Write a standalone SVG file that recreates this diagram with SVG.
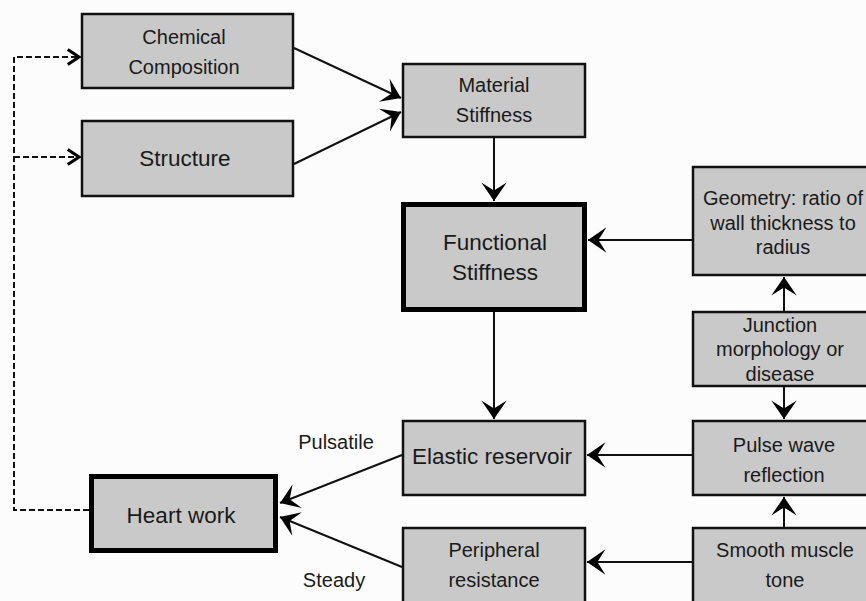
<svg xmlns="http://www.w3.org/2000/svg" width="866" height="601" viewBox="0 0 866 601">
<style>
.box{fill:#c9c9c9;stroke:#111;stroke-width:2.5}
.thick{fill:#c9c9c9;stroke:#000;stroke-width:5}
text{font-family:"Liberation Sans",Arial,sans-serif;fill:#1a1a1a;text-anchor:middle}
.s{font-size:20px}
.l{font-size:22.5px}
.c{stroke:#111;stroke-width:2;fill:none}
.d{stroke:#111;stroke-width:2;fill:none;stroke-dasharray:6 3}
</style>
<defs>
<marker id="a" markerUnits="userSpaceOnUse" markerWidth="30" markerHeight="30" viewBox="-18 -13 20 26" refX="0" refY="0" orient="auto">
<path d="M0,0 L-16,-11 L-9,0 L-16,11 z" fill="#000"/>
</marker>
<marker id="o" markerUnits="userSpaceOnUse" markerWidth="20" markerHeight="20" viewBox="-12 -8 14 16" refX="0" refY="0" orient="auto">
<path d="M-9,-6 L0,0 L-9,6" fill="none" stroke="#000" stroke-width="2.5"/>
</marker>
</defs>
<rect width="866" height="601" fill="#fcfcfc"/>
<g id="connectors">
<path class="d" d="M89,510 H14 V57 H79" marker-end="url(#o)"/>
<path class="d" d="M14,157 H79" marker-end="url(#o)"/>
<line class="c" x1="294" y1="48" x2="401" y2="98" marker-end="url(#a)"/>
<line class="c" x1="294" y1="164" x2="401" y2="112" marker-end="url(#a)"/>
<line class="c" x1="494" y1="138" x2="494" y2="201" marker-end="url(#a)"/>
<line class="c" x1="692" y1="240" x2="588" y2="240" marker-end="url(#a)"/>
<line class="c" x1="494" y1="312" x2="494" y2="419" marker-end="url(#a)"/>
<line class="c" x1="784" y1="311" x2="784" y2="277" marker-end="url(#a)"/>
<line class="c" x1="784" y1="387" x2="784" y2="419" marker-end="url(#a)"/>
<line class="c" x1="784" y1="527" x2="784" y2="497" marker-end="url(#a)"/>
<line class="c" x1="692" y1="455" x2="587" y2="455" marker-end="url(#a)"/>
<line class="c" x1="692" y1="562" x2="587" y2="562" marker-end="url(#a)"/>
<line class="c" x1="402" y1="455" x2="280" y2="503" marker-end="url(#a)"/>
<line class="c" x1="402" y1="567" x2="280" y2="517" marker-end="url(#a)"/>
<text class="s" x="336" y="449">Pulsatile</text>
<text class="s" x="334" y="587">Steady</text>
</g>
<g id="chemical">
<rect class="box" x="82" y="14" width="211" height="74"/>
<text class="s" x="184" y="44">Chemical</text>
<text class="s" x="184" y="74">Composition</text>
</g>
<g id="structure">
<rect class="box" x="82" y="121" width="211" height="75"/>
<text class="l" x="185" y="166">Structure</text>
</g>
<g id="material">
<rect class="box" x="403" y="64" width="182" height="73"/>
<text class="s" x="494" y="92">Material</text>
<text class="s" x="494" y="122">Stiffness</text>
</g>
<g id="functional">
<rect class="thick" x="403.5" y="204.5" width="181" height="105"/>
<text class="l" x="495" y="250">Functional</text>
<text class="l" x="495" y="280">Stiffness</text>
</g>
<g id="geometry">
<rect class="box" x="693" y="167" width="190" height="108"/>
<text class="s" x="783" y="205">Geometry: ratio of</text>
<text class="s" x="783" y="230">wall thickness to</text>
<text class="s" x="783" y="254">radius</text>
</g>
<g id="junction">
<rect class="box" x="693" y="312" width="190" height="74"/>
<text class="s" x="780" y="332">Junction</text>
<text class="s" x="780" y="356">morphology or</text>
<text class="s" x="780" y="381">disease</text>
</g>
<g id="pulse">
<rect class="box" x="693" y="421" width="190" height="74"/>
<text class="s" x="784" y="452">Pulse wave</text>
<text class="s" x="784" y="482">reflection</text>
</g>
<g id="smooth">
<rect class="box" x="693" y="528" width="190" height="100"/>
<text class="s" x="785" y="557">Smooth muscle</text>
<text class="s" x="785" y="587">tone</text>
</g>
<g id="elastic">
<rect class="box" x="403" y="421" width="182" height="74"/>
<text class="l" x="492" y="464">Elastic reservoir</text>
</g>
<g id="peripheral">
<rect class="box" x="403" y="528" width="182" height="100"/>
<text class="s" x="494" y="557">Peripheral</text>
<text class="s" x="494" y="587">resistance</text>
</g>
<g id="heart">
<rect class="thick" x="91.5" y="476.5" width="184" height="74"/>
<text class="l" x="181" y="523">Heart work</text>
</g>
</svg>
